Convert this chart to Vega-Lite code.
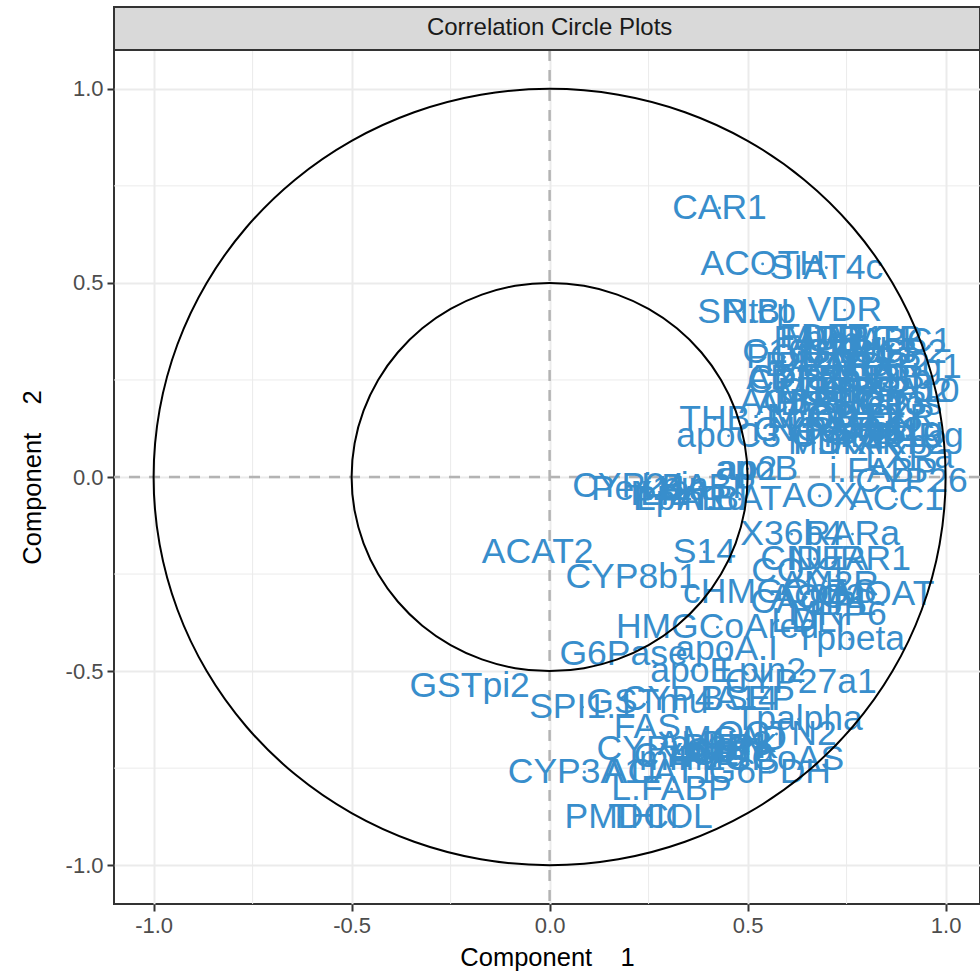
{
  "$schema": "https://vega.github.io/schema/vega-lite/v6.json",
  "width": 866,
  "height": 854,
  "autosize": {"type": "none"},
  "padding": {"left": 114, "top": 50, "right": 0, "bottom": 73},
  "background": "white",
  "config": {
    "font": "Liberation Sans",
    "view": {"stroke": "#333333", "strokeWidth": 2},
    "axis": {
      "domain": false,
      "grid": true,
      "gridColor": "#ebebeb",
      "gridWidth": 2,
      "tickColor": "#333333",
      "tickSize": 7,
      "tickWidth": 2,
      "labelColor": "#4d4d4d",
      "labelFont": "Liberation Sans",
      "labelFontSize": 22,
      "labelPadding": 4,
      "titleFont": "Liberation Sans",
      "titleFontSize": 25.5,
      "titleFontWeight": "normal",
      "titleColor": "#000000"
    }
  },
  "datasets": {
    "genes": [
      {"gene": "CAR1", "c1": 0.429, "c2": 0.693},
      {"gene": "ACOTH", "c1": 0.538, "c2": 0.549},
      {"gene": "SIAT4c", "c1": 0.699, "c2": 0.539},
      {"gene": "VDR", "c1": 0.745, "c2": 0.430},
      {"gene": "SR.BI", "c1": 0.490, "c2": 0.425},
      {"gene": "Ntcp", "c1": 0.530, "c2": 0.425},
      {"gene": "PON", "c1": 0.593, "c2": 0.309},
      {"gene": "FDFT", "c1": 0.694, "c2": 0.361},
      {"gene": "CPT2", "c1": 0.614, "c2": 0.245},
      {"gene": "ACBP", "c1": 0.601, "c2": 0.193},
      {"gene": "THB", "c1": 0.417, "c2": 0.149},
      {"gene": "apoC3", "c1": 0.452, "c2": 0.106},
      {"gene": "PPARg", "c1": 0.902, "c2": 0.106},
      {"gene": "LXRa", "c1": 0.909, "c2": 0.052},
      {"gene": "RXRg1", "c1": 0.896, "c2": 0.284},
      {"gene": "CYP4A10", "c1": 0.838, "c2": 0.222},
      {"gene": "apoB", "c1": 0.523, "c2": 0.021},
      {"gene": "ap2", "c1": 0.500, "c2": 0.021},
      {"gene": "i.FABP", "c1": 0.843, "c2": 0.015},
      {"gene": "CYP26", "c1": 0.914, "c2": -0.010},
      {"gene": "CYP24", "c1": 0.199, "c2": -0.023},
      {"gene": "AOX", "c1": 0.682, "c2": -0.049},
      {"gene": "ACC1", "c1": 0.876, "c2": -0.057},
      {"gene": "PPARd", "c1": 0.354, "c2": -0.057},
      {"gene": "Pex11a", "c1": 0.253, "c2": -0.031},
      {"gene": "IL.2", "c1": 0.278, "c2": -0.044},
      {"gene": "Lpin", "c1": 0.316, "c2": -0.023},
      {"gene": "Lpin1", "c1": 0.328, "c2": -0.057},
      {"gene": "i.BABP", "c1": 0.379, "c2": -0.026},
      {"gene": "i.BAT", "c1": 0.480, "c2": -0.057},
      {"gene": "X36b4", "c1": 0.611, "c2": -0.147},
      {"gene": "RARa", "c1": 0.765, "c2": -0.147},
      {"gene": "S14", "c1": 0.391, "c2": -0.193},
      {"gene": "ACAT2", "c1": -0.030, "c2": -0.193},
      {"gene": "CYP8b1", "c1": 0.207, "c2": -0.258},
      {"gene": "CIDEA", "c1": 0.669, "c2": -0.211},
      {"gene": "NURR1", "c1": 0.758, "c2": -0.211},
      {"gene": "COX1", "c1": 0.631, "c2": -0.242},
      {"gene": "AM2R", "c1": 0.707, "c2": -0.276},
      {"gene": "cHMGCoAS", "c1": 0.581, "c2": -0.296},
      {"gene": "cMOAT", "c1": 0.823, "c2": -0.302},
      {"gene": "CACP", "c1": 0.631, "c2": -0.322},
      {"gene": "ACC2", "c1": 0.677, "c2": -0.309},
      {"gene": "LPL", "c1": 0.745, "c2": -0.327},
      {"gene": "MRP6", "c1": 0.727, "c2": -0.353},
      {"gene": "LDLr", "c1": 0.657, "c2": -0.371},
      {"gene": "HMGCoAred", "c1": 0.424, "c2": -0.387},
      {"gene": "Tpbeta", "c1": 0.758, "c2": -0.418},
      {"gene": "apoA.I", "c1": 0.447, "c2": -0.443},
      {"gene": "G6Pase", "c1": 0.187, "c2": -0.456},
      {"gene": "apoE", "c1": 0.359, "c2": -0.500},
      {"gene": "Lpin2", "c1": 0.538, "c2": -0.500},
      {"gene": "CYP27a1", "c1": 0.634, "c2": -0.528},
      {"gene": "GSTpi2", "c1": -0.202, "c2": -0.539},
      {"gene": "SPI1.1", "c1": 0.083, "c2": -0.593},
      {"gene": "GSTmu", "c1": 0.247, "c2": -0.580},
      {"gene": "BSEP", "c1": 0.500, "c2": -0.572},
      {"gene": "CYP4A14", "c1": 0.379, "c2": -0.572},
      {"gene": "FAS", "c1": 0.247, "c2": -0.644},
      {"gene": "Tpalpha", "c1": 0.629, "c2": -0.624},
      {"gene": "OCTN2", "c1": 0.573, "c2": -0.662},
      {"gene": "CYP3A11", "c1": 0.088, "c2": -0.760},
      {"gene": "ACAT1", "c1": 0.278, "c2": -0.760},
      {"gene": "L.FABP", "c1": 0.308, "c2": -0.804},
      {"gene": "PMDCI", "c1": 0.182, "c2": -0.876},
      {"gene": "THIOL", "c1": 0.280, "c2": -0.876},
      {"gene": "mHMGCoAS", "c1": 0.485, "c2": -0.727},
      {"gene": "G6PDH", "c1": 0.556, "c2": -0.760},
      {"gene": "CYP7a", "c1": 0.354, "c2": -0.719},
      {"gene": "CYP2c29", "c1": 0.308, "c2": -0.701},
      {"gene": "ALDH3", "c1": 0.417, "c2": -0.688},
      {"gene": "GSTa", "c1": 0.455, "c2": -0.706},
      {"gene": "LPK", "c1": 0.492, "c2": -0.696},
      {"gene": "PECI", "c1": 0.429, "c2": -0.727},
      {"gene": "MCAD", "c1": 0.467, "c2": -0.675},
      {"gene": "LCE", "c1": 0.391, "c2": -0.714},
      {"gene": "BIEN", "c1": 0.442, "c2": -0.696},
      {"gene": "FAT", "c1": 0.644, "c2": 0.356},
      {"gene": "MDR1", "c1": 0.720, "c2": 0.356},
      {"gene": "hABC1", "c1": 0.783, "c2": 0.356},
      {"gene": "PLTP", "c1": 0.833, "c2": 0.356},
      {"gene": "mABC1", "c1": 0.862, "c2": 0.350},
      {"gene": "C16SR", "c1": 0.631, "c2": 0.322},
      {"gene": "GK", "c1": 0.702, "c2": 0.322},
      {"gene": "LXRb", "c1": 0.758, "c2": 0.322},
      {"gene": "Bcl.3", "c1": 0.828, "c2": 0.322},
      {"gene": "UCP2", "c1": 0.884, "c2": 0.322},
      {"gene": "BACT", "c1": 0.662, "c2": 0.289},
      {"gene": "PPARa", "c1": 0.720, "c2": 0.289},
      {"gene": "TRa", "c1": 0.783, "c2": 0.289},
      {"gene": "MDR2", "c1": 0.833, "c2": 0.289},
      {"gene": "ADISP", "c1": 0.631, "c2": 0.255},
      {"gene": "CYP2b13", "c1": 0.694, "c2": 0.255},
      {"gene": "PAL", "c1": 0.758, "c2": 0.255},
      {"gene": "NGFiB", "c1": 0.813, "c2": 0.255},
      {"gene": "TRb", "c1": 0.879, "c2": 0.255},
      {"gene": "GS", "c1": 0.644, "c2": 0.222},
      {"gene": "MTHFR", "c1": 0.732, "c2": 0.222},
      {"gene": "CBS", "c1": 0.783, "c2": 0.222},
      {"gene": "RXRb2", "c1": 0.871, "c2": 0.222},
      {"gene": "ADSS1", "c1": 0.669, "c2": 0.188},
      {"gene": "HPNCL", "c1": 0.720, "c2": 0.188},
      {"gene": "SHP1", "c1": 0.783, "c2": 0.188},
      {"gene": "UCP3", "c1": 0.833, "c2": 0.188},
      {"gene": "c.fos", "c1": 0.896, "c2": 0.188},
      {"gene": "Lpin3", "c1": 0.657, "c2": 0.155},
      {"gene": "M.CPT1", "c1": 0.720, "c2": 0.155},
      {"gene": "COX2", "c1": 0.770, "c2": 0.155},
      {"gene": "VLDLr", "c1": 0.821, "c2": 0.155},
      {"gene": "FXR", "c1": 0.884, "c2": 0.155},
      {"gene": "i.NOS", "c1": 0.631, "c2": 0.121},
      {"gene": "CYP27b1", "c1": 0.707, "c2": 0.121},
      {"gene": "RXRa", "c1": 0.770, "c2": 0.121},
      {"gene": "Waf1", "c1": 0.833, "c2": 0.121},
      {"gene": "eif2g", "c1": 0.896, "c2": 0.121},
      {"gene": "MS", "c1": 0.669, "c2": 0.088},
      {"gene": "PDK4", "c1": 0.732, "c2": 0.088},
      {"gene": "PXR", "c1": 0.795, "c2": 0.088},
      {"gene": "RARb2", "c1": 0.859, "c2": 0.088},
      {"gene": "CYP2b10", "c1": 0.800, "c2": 0.105}
    ],
    "circles": [
      {"ring": "outer", "i": 0, "cx": 1, "cy": 0},
      {"ring": "outer", "i": 1, "cx": 0.9848, "cy": 0.1736},
      {"ring": "outer", "i": 2, "cx": 0.9397, "cy": 0.342},
      {"ring": "outer", "i": 3, "cx": 0.866, "cy": 0.5},
      {"ring": "outer", "i": 4, "cx": 0.766, "cy": 0.6428},
      {"ring": "outer", "i": 5, "cx": 0.6428, "cy": 0.766},
      {"ring": "outer", "i": 6, "cx": 0.5, "cy": 0.866},
      {"ring": "outer", "i": 7, "cx": 0.342, "cy": 0.9397},
      {"ring": "outer", "i": 8, "cx": 0.1736, "cy": 0.9848},
      {"ring": "outer", "i": 9, "cx": 0, "cy": 1},
      {"ring": "outer", "i": 10, "cx": -0.1736, "cy": 0.9848},
      {"ring": "outer", "i": 11, "cx": -0.342, "cy": 0.9397},
      {"ring": "outer", "i": 12, "cx": -0.5, "cy": 0.866},
      {"ring": "outer", "i": 13, "cx": -0.6428, "cy": 0.766},
      {"ring": "outer", "i": 14, "cx": -0.766, "cy": 0.6428},
      {"ring": "outer", "i": 15, "cx": -0.866, "cy": 0.5},
      {"ring": "outer", "i": 16, "cx": -0.9397, "cy": 0.342},
      {"ring": "outer", "i": 17, "cx": -0.9848, "cy": 0.1736},
      {"ring": "outer", "i": 18, "cx": -1, "cy": 0},
      {"ring": "outer", "i": 19, "cx": -0.9848, "cy": -0.1736},
      {"ring": "outer", "i": 20, "cx": -0.9397, "cy": -0.342},
      {"ring": "outer", "i": 21, "cx": -0.866, "cy": -0.5},
      {"ring": "outer", "i": 22, "cx": -0.766, "cy": -0.6428},
      {"ring": "outer", "i": 23, "cx": -0.6428, "cy": -0.766},
      {"ring": "outer", "i": 24, "cx": -0.5, "cy": -0.866},
      {"ring": "outer", "i": 25, "cx": -0.342, "cy": -0.9397},
      {"ring": "outer", "i": 26, "cx": -0.1736, "cy": -0.9848},
      {"ring": "outer", "i": 27, "cx": 0, "cy": -1},
      {"ring": "outer", "i": 28, "cx": 0.1736, "cy": -0.9848},
      {"ring": "outer", "i": 29, "cx": 0.342, "cy": -0.9397},
      {"ring": "outer", "i": 30, "cx": 0.5, "cy": -0.866},
      {"ring": "outer", "i": 31, "cx": 0.6428, "cy": -0.766},
      {"ring": "outer", "i": 32, "cx": 0.766, "cy": -0.6428},
      {"ring": "outer", "i": 33, "cx": 0.866, "cy": -0.5},
      {"ring": "outer", "i": 34, "cx": 0.9397, "cy": -0.342},
      {"ring": "outer", "i": 35, "cx": 0.9848, "cy": -0.1736},
      {"ring": "inner", "i": 0, "cx": 0.5, "cy": 0},
      {"ring": "inner", "i": 1, "cx": 0.4924, "cy": 0.0868},
      {"ring": "inner", "i": 2, "cx": 0.4698, "cy": 0.171},
      {"ring": "inner", "i": 3, "cx": 0.433, "cy": 0.25},
      {"ring": "inner", "i": 4, "cx": 0.383, "cy": 0.3214},
      {"ring": "inner", "i": 5, "cx": 0.3214, "cy": 0.383},
      {"ring": "inner", "i": 6, "cx": 0.25, "cy": 0.433},
      {"ring": "inner", "i": 7, "cx": 0.171, "cy": 0.4698},
      {"ring": "inner", "i": 8, "cx": 0.0868, "cy": 0.4924},
      {"ring": "inner", "i": 9, "cx": 0, "cy": 0.5},
      {"ring": "inner", "i": 10, "cx": -0.0868, "cy": 0.4924},
      {"ring": "inner", "i": 11, "cx": -0.171, "cy": 0.4698},
      {"ring": "inner", "i": 12, "cx": -0.25, "cy": 0.433},
      {"ring": "inner", "i": 13, "cx": -0.3214, "cy": 0.383},
      {"ring": "inner", "i": 14, "cx": -0.383, "cy": 0.3214},
      {"ring": "inner", "i": 15, "cx": -0.433, "cy": 0.25},
      {"ring": "inner", "i": 16, "cx": -0.4698, "cy": 0.171},
      {"ring": "inner", "i": 17, "cx": -0.4924, "cy": 0.0868},
      {"ring": "inner", "i": 18, "cx": -0.5, "cy": 0},
      {"ring": "inner", "i": 19, "cx": -0.4924, "cy": -0.0868},
      {"ring": "inner", "i": 20, "cx": -0.4698, "cy": -0.171},
      {"ring": "inner", "i": 21, "cx": -0.433, "cy": -0.25},
      {"ring": "inner", "i": 22, "cx": -0.383, "cy": -0.3214},
      {"ring": "inner", "i": 23, "cx": -0.3214, "cy": -0.383},
      {"ring": "inner", "i": 24, "cx": -0.25, "cy": -0.433},
      {"ring": "inner", "i": 25, "cx": -0.171, "cy": -0.4698},
      {"ring": "inner", "i": 26, "cx": -0.0868, "cy": -0.4924},
      {"ring": "inner", "i": 27, "cx": 0, "cy": -0.5},
      {"ring": "inner", "i": 28, "cx": 0.0868, "cy": -0.4924},
      {"ring": "inner", "i": 29, "cx": 0.171, "cy": -0.4698},
      {"ring": "inner", "i": 30, "cx": 0.25, "cy": -0.433},
      {"ring": "inner", "i": 31, "cx": 0.3214, "cy": -0.383},
      {"ring": "inner", "i": 32, "cx": 0.383, "cy": -0.3214},
      {"ring": "inner", "i": 33, "cx": 0.433, "cy": -0.25},
      {"ring": "inner", "i": 34, "cx": 0.4698, "cy": -0.171},
      {"ring": "inner", "i": 35, "cx": 0.4924, "cy": -0.0868}
    ],
    "minorBreaks": [{"v": -0.75}, {"v": -0.25}, {"v": 0.25}, {"v": 0.75}]
  },
  "layer": [
    {
      "data": {"name": "minorBreaks"},
      "mark": {"type": "rule", "color": "#ebebeb", "strokeWidth": 1},
      "encoding": {
        "x": {"field": "v", "type": "quantitative", "title": "Component\u00a0\u00a0\u00a0\u00a01", "scale": {"domain": [-1.1, 1.0869], "nice": false, "zero": false}}
      }
    },
    {
      "data": {"name": "minorBreaks"},
      "mark": {"type": "rule", "color": "#ebebeb", "strokeWidth": 1},
      "encoding": {
        "y": {"field": "v", "type": "quantitative", "title": "Component\u00a0\u00a0\u00a0\u00a02", "scale": {"domain": [-1.1, 1.1], "nice": false, "zero": false}}
      }
    },
    {
      "data": {"values": [{}]},
      "mark": {"type": "rule", "color": "#b3b3b3", "strokeWidth": 2.5, "strokeDash": [11, 9]},
      "encoding": {"x": {"datum": 0, "type": "quantitative", "title": "Component\u00a0\u00a0\u00a0\u00a01"}}
    },
    {
      "data": {"values": [{}]},
      "mark": {"type": "rule", "color": "#b3b3b3", "strokeWidth": 2.5, "strokeDash": [11, 9]},
      "encoding": {"y": {"datum": 0, "type": "quantitative", "title": "Component\u00a0\u00a0\u00a0\u00a02"}}
    },
    {
      "data": {"name": "genes"},
      "mark": {"type": "text", "fontSize": 35.5, "color": "#388ECC", "align": "center", "baseline": "middle", "font": "Liberation Sans"},
      "encoding": {
        "x": {
          "field": "c1", "type": "quantitative", "title": "Component\u00a0\u00a0\u00a0\u00a01",
          "axis": {"values": [-1, -0.5, 0, 0.5, 1], "labelExpr": "(datum.value < 0 ? '-' : '') + format(abs(datum.value), '.1f')", "labelFlush": false, "labelOverlap": false, "titlePadding": 9}
        },
        "y": {
          "field": "c2", "type": "quantitative", "title": "Component\u00a0\u00a0\u00a0\u00a02",
          "axis": {"values": [-1, -0.5, 0, 0.5, 1], "labelExpr": "(datum.value < 0 ? '-' : '') + format(abs(datum.value), '.1f')", "labelFlush": false, "labelOverlap": false, "titlePadding": 20}
        },
        "text": {"field": "gene", "type": "nominal"}
      }
    },
    {
      "data": {"name": "genes"},
      "mark": {"type": "point", "filled": true, "size": 8, "color": "#388ECC", "opacity": 1},
      "encoding": {
        "x": {"field": "c1", "type": "quantitative", "title": "Component\u00a0\u00a0\u00a0\u00a01"},
        "y": {"field": "c2", "type": "quantitative", "title": "Component\u00a0\u00a0\u00a0\u00a02"}
      }
    },
    {
      "data": {"name": "circles"},
      "mark": {"type": "line", "color": "#000000", "strokeWidth": 2, "interpolate": "cardinal-closed"},
      "encoding": {
        "x": {"field": "cx", "type": "quantitative", "title": "Component\u00a0\u00a0\u00a0\u00a01"},
        "y": {"field": "cy", "type": "quantitative", "title": "Component\u00a0\u00a0\u00a0\u00a02"},
        "detail": {"field": "ring", "type": "nominal"},
        "order": {"field": "i", "type": "quantitative"}
      }
    },
    {
      "data": {"values": [{}]},
      "mark": {"type": "rect", "fill": "#d9d9d9", "stroke": "#333333", "strokeWidth": 2},
      "encoding": {
        "x": {"datum": -1.1, "type": "quantitative"},
        "x2": {"datum": 1.0869},
        "y": {"datum": 1.1, "type": "quantitative"},
        "y2": {"datum": 1.2108}
      }
    },
    {
      "data": {"values": [{}]},
      "mark": {"type": "text", "fontSize": 24, "color": "#1a1a1a", "align": "center", "baseline": "middle", "font": "Liberation Sans"},
      "encoding": {
        "x": {"datum": 0, "type": "quantitative"},
        "y": {"datum": 1.1554, "type": "quantitative"},
        "text": {"value": "Correlation Circle Plots"}
      }
    }
  ]
}
